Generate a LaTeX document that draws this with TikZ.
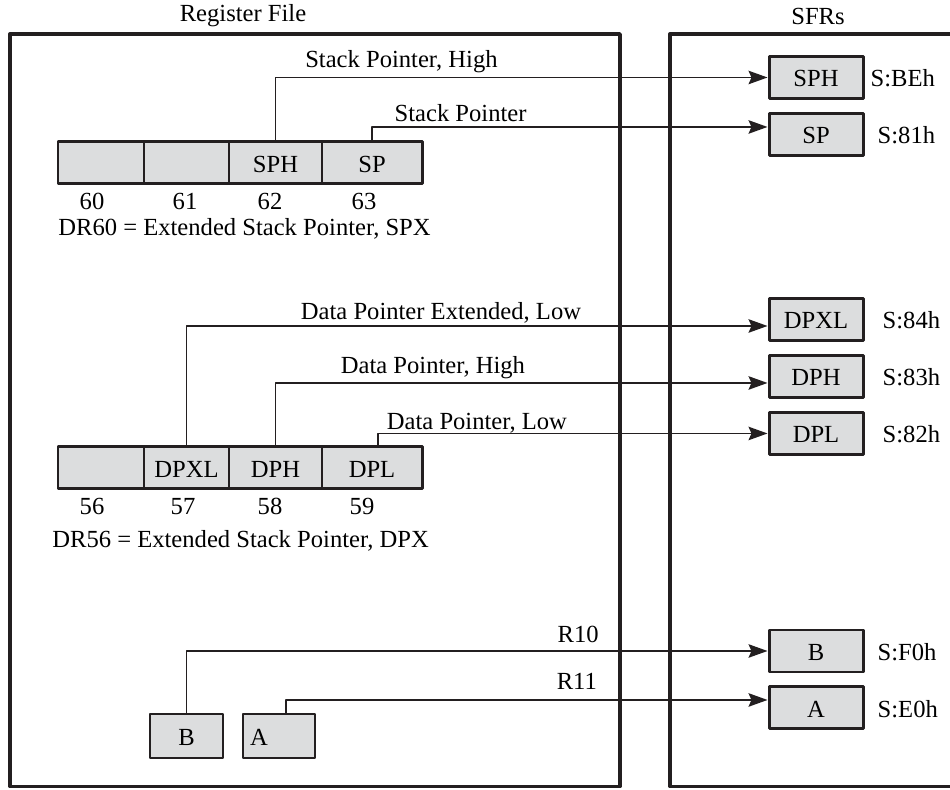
\documentclass[tikz,border=0pt]{standalone}
\usepackage{fontspec}
\setmainfont{Liberation Serif}
\usetikzlibrary{arrows.meta,positioning}

\definecolor{ink}{HTML}{231F20}
\definecolor{regfill}{HTML}{DCDDDE}

\tikzset{
  frame/.style={draw=ink,line width=1.9pt},
  reg/.style={draw=ink,fill=regfill,line width=1.7pt,minimum height=0.84cm,
    inner sep=0pt,outer sep=0pt,text height=1.06em,text depth=0pt},
  sfr/.style={reg,minimum width=1.88cm,outer sep=0.85pt},
  addr/.style={text height=1.06em,text depth=0pt},
  num/.style={inner sep=1pt},
  lbl/.style={inner sep=0pt,text depth=0pt},
  wire/.style={draw=ink,line width=0.9pt,
    -{Stealth[length=0.38cm,width=0.27cm,inset=0.06cm]}},
}

\begin{document}
\begin{tikzpicture}[font=\fontsize{14}{17}\selectfont,line join=round]
  \useasboundingbox (0,0) rectangle (19,15.8);

  % frames
  \draw[frame] (0.2,0.07) rectangle (12.4,15.12);
  \draw[frame] (19,15.12) -- (13.4,15.12) -- (13.4,0.07) -- (19,0.07);
  \node (rftitle) at (4.86,15.48) {Register File};
  \node (sfrtitle) at (16.36,15.48) {SFRs};

  % register file, stack pointer
  \node[reg,minimum width=1.72cm,anchor=north west] (r60) at (1.16,12.96) {};
  \node[reg,minimum width=1.70cm,right=0pt of r60] (r61) {};
  \node[reg,minimum width=1.86cm,right=0pt of r61] (r62) {SPH};
  \node[reg,minimum width=2.00cm,right=0pt of r62] (r63) {SP};

  % register file, data pointer
  \node[reg,minimum width=1.72cm,anchor=north west] (r56) at (1.16,6.86) {};
  \node[reg,minimum width=1.70cm,right=0pt of r56] (r57) {DPXL};
  \node[reg,minimum width=1.86cm,right=0pt of r57] (r58) {DPH};
  \node[reg,minimum width=2.00cm,right=0pt of r58] (r59) {DPL};

  \foreach \c/\dx in {60/-0.18,61/-0.03,62/-0.11,63/-0.16,56/-0.18,57/-0.07,58/-0.11,59/-0.2}
    \node[num,below=4pt of r\c,xshift=\dx cm] (n\c) {\c};

  \node[anchor=west,inner sep=0pt] (dr60) at (1.16,11.23) {DR60 = Extended Stack Pointer, SPX};
  \node[anchor=west,inner sep=0pt] (dr56) at (1.04,4.98) {DR56 = Extended Stack Pointer, DPX};

  % register file, B and A
  \node[reg,minimum width=1.46cm,minimum height=0.88cm] (rb) at (3.73,1.08) {B};
  \node[reg,minimum height=0.88cm,inner xsep=0.14cm,text width=1.16cm,align=left,
    right=0.4cm of rb] (ra) {A};

  % SFRs
  \node[sfr] (sph) at (16.32,14.25) {SPH};
  \node[sfr,below=0.24cm of sph] (sp) {SP};
  \node[sfr] (dpxl) at (16.32,9.41) {DPXL};
  \node[sfr,below=0.24cm of dpxl] (dph) {DPH};
  \node[sfr,below=0.24cm of dph] (dpl) {DPL};
  \node[sfr] (sfrb) at (16.32,2.78) {B};
  \node[sfr,below=0.24cm of sfrb] (sfra) {A};

  \node[addr,right=0pt of sph] (asph) {S:BEh};
  \node[addr,right=0.14cm of sp] (asp) {S:81h};
  \node[addr,right=0.24cm of dpxl] (adpxl) {S:84h};
  \node[addr,right=0.24cm of dph] (adph) {S:83h};
  \node[addr,right=0.24cm of dpl] (adpl) {S:82h};
  \node[addr,right=0.14cm of sfrb] (ab) {S:F0h};
  \node[addr,right=0.14cm of sfra] (aa) {S:E0h};

  % connectors
  \draw[wire] (r62.north) |- node[lbl,pos=0.628,above=0.19cm] {Stack Pointer, High} (sph.west);
  \draw[wire] (r63.north) |- node[lbl,pos=0.612,above=0.09cm] {Stack Pointer} ([yshift=0.15cm]sp.west);
  \draw[wire] (r57.north) |- node[lbl,pos=0.719,above=0.11cm] {Data Pointer Extended, Low} ([yshift=-0.13cm]dpxl.west);
  \draw[wire] (r58.north) |- node[lbl,pos=0.66,above=0.18cm] {Data Pointer, High} ([yshift=-0.13cm]dph.west);
  \draw[wire] ([xshift=0.12cm]r59.north) |- node[lbl,pos=0.627,above=0.07cm] {Data Pointer, Low} (dpl.west);
  \draw[wire] (rb.north) |- node[lbl,pos=0.837,above=0.15cm] {R10} (sfrb.west);
  \draw[wire] ([xshift=0.14cm]ra.north) |- node[lbl,pos=0.802,above=0.19cm] {R11} ([yshift=0.16cm]sfra.west);

\end{tikzpicture}
\end{document}
